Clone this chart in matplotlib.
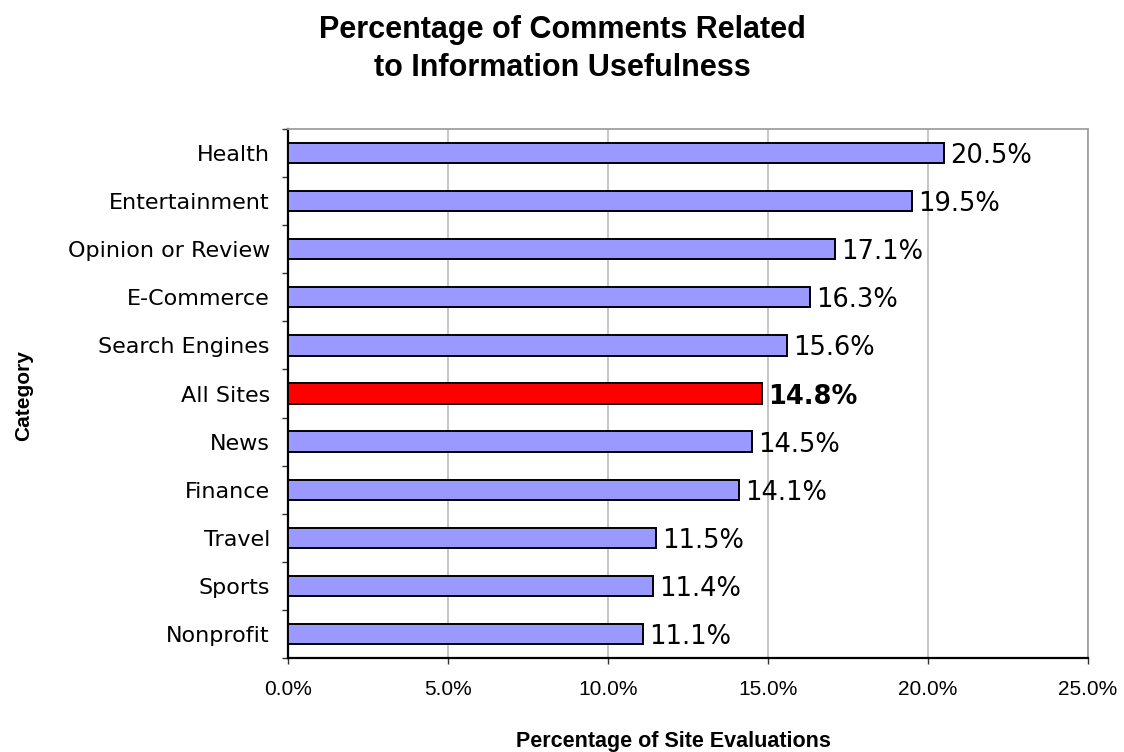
import numpy as np
import matplotlib
matplotlib.use("Agg")
import matplotlib.pyplot as plt
from matplotlib.ticker import FuncFormatter, MultipleLocator

# === Data (top to bottom) ===
categories = ["Health", "Entertainment", "Opinion or Review", "E-Commerce", "Search Engines",
              "All Sites", "News", "Finance", "Travel", "Sports", "Nonprofit"]
values = [20.5, 19.5, 17.1, 16.3, 15.6, 14.8, 14.5, 14.1, 11.5, 11.4, 11.1]
highlight = "All Sites"

W, H = 1124, 752
fig = plt.figure(figsize=(W / 100, H / 100), dpi=100)
ax = fig.add_axes([288 / W, 1 - 658 / H, 800 / W, 529 / H])

y = np.arange(len(categories))[::-1]
colors = ["#ff0000" if c == highlight else "#9999ff" for c in categories]
ax.barh(y, values, height=0.42, color=colors, edgecolor="black", linewidth=1.4, zorder=3)

# value labels
for yi, v, c in zip(y, values, categories):
    ax.text(v + 0.2, yi, f"{v:.1f}%", va="center_baseline", ha="left", fontsize=18.5,
            fontweight="bold" if c == highlight else "normal",
            family="DejaVu Sans", zorder=4)

ax.set_xlim(0, 25)
ax.set_ylim(-0.5, len(categories) - 0.5)
ax.xaxis.set_major_locator(MultipleLocator(5))
ax.xaxis.set_major_formatter(FuncFormatter(lambda x, _: f"{x:.1f}%"))
ax.grid(True, axis="x", color="#c0c0c0", linewidth=1.3, zorder=0)

ax.set_yticks(y)
ax.set_yticklabels(categories, fontsize=16, family="DejaVu Sans")
ax.set_yticks(np.arange(-0.5, len(categories)), minor=True)
ax.tick_params(axis="y", which="major", length=0, pad=13)
ax.tick_params(axis="y", which="minor", length=4, width=1.0, color="#333333")
ax.tick_params(axis="x", which="major", length=4.5, width=1.0, color="#333333", pad=11)
for lbl in ax.get_xticklabels():
    lbl.set_family("Liberation Sans")
    lbl.set_fontsize(15)

ax.spines["top"].set_color("#a0a0a0")
ax.spines["right"].set_color("#a0a0a0")
ax.spines["top"].set_linewidth(1.3)
ax.spines["right"].set_linewidth(1.3)
ax.spines["left"].set_linewidth(1.6)
ax.spines["bottom"].set_linewidth(1.6)

# title (two lines)
fig.text(562 / W, 1 - 38 / H, "Percentage of Comments Related", ha="center", va="baseline",
         fontsize=22, fontweight="bold", family="Liberation Sans")
fig.text(562 / W, 1 - 76 / H, "to Information Usefulness", ha="center", va="baseline",
         fontsize=22, fontweight="bold", family="Liberation Sans")

# axis titles
fig.text(673 / W, 1 - 747 / H, "Percentage of Site Evaluations", ha="center", va="baseline",
         fontsize=15.5, fontweight="bold", family="Liberation Sans")
fig.text(24 / W, 1 - 396 / H, "Category", ha="center", va="center", rotation=90,
         fontsize=15, fontweight="bold", family="Liberation Sans")

fig.savefig("out.png", dpi=100)
